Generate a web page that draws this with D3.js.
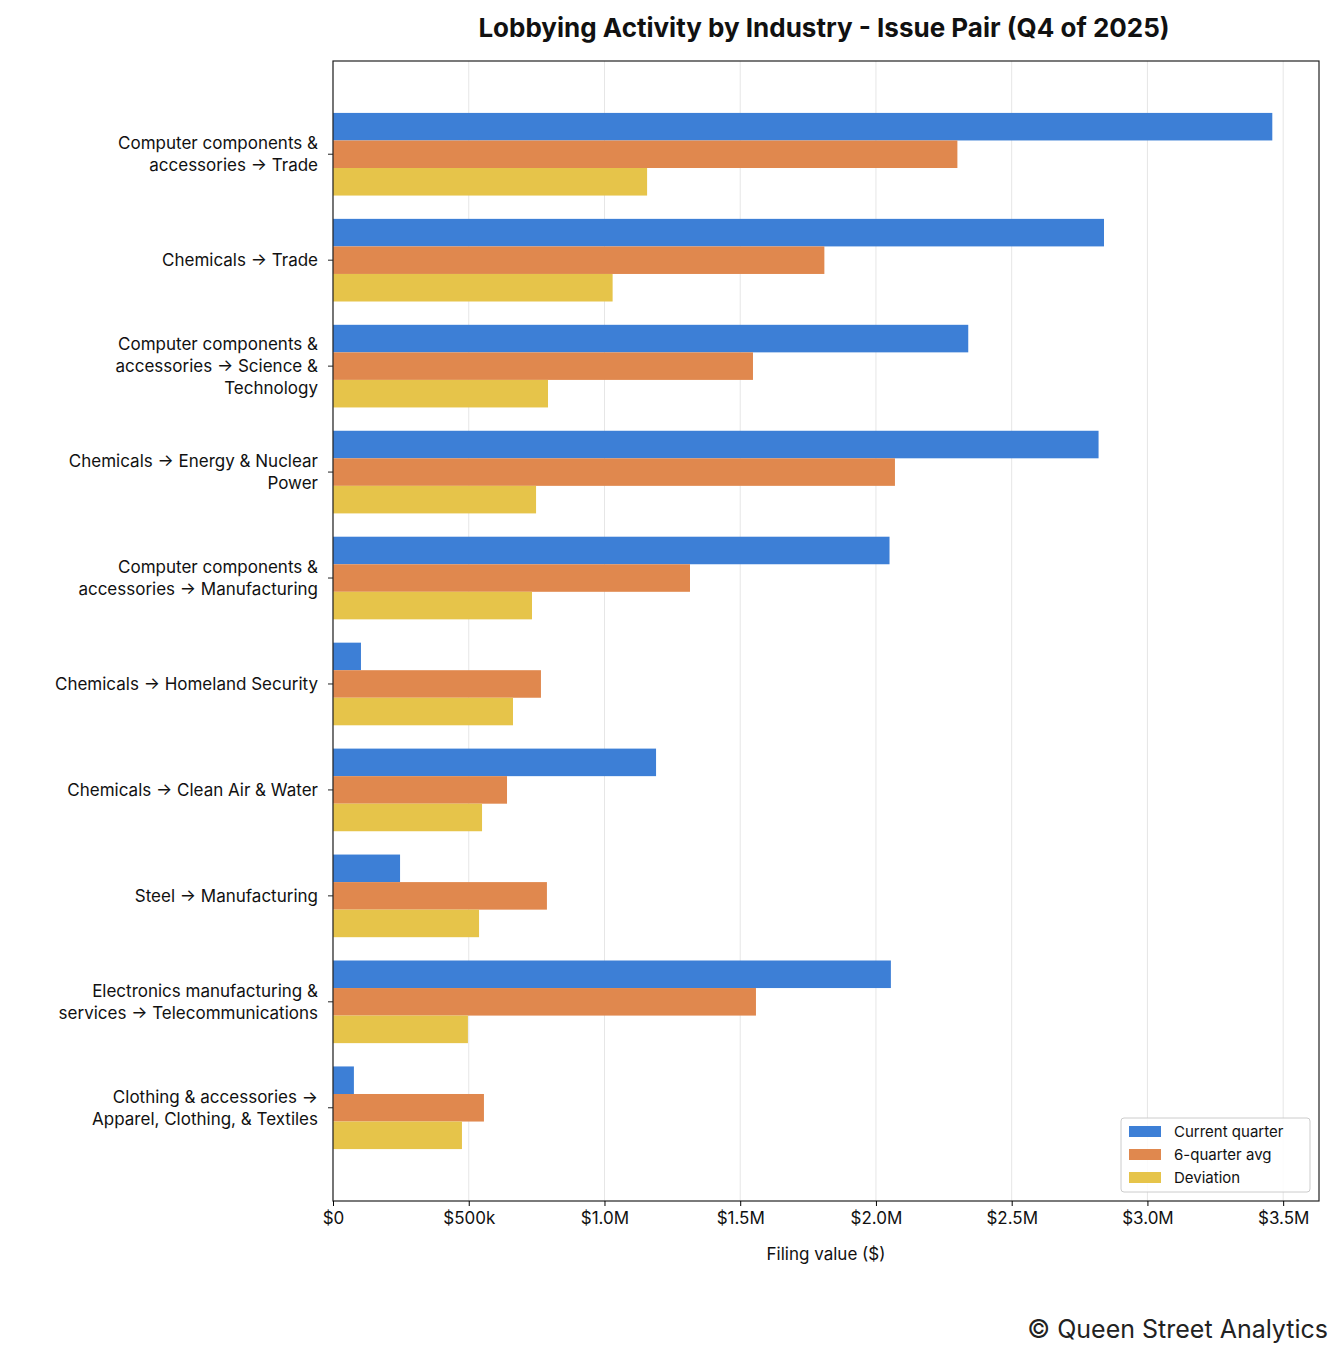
<!DOCTYPE html>
<html>
<head>
<meta charset="utf-8">
<script src="https://cdn.jsdelivr.net/npm/d3@7"></script>
<style>
  body { margin: 0; background: #fff; }
  text { font-family: Inter, "DejaVu Sans", sans-serif; }
</style>
</head>
<body>
<svg id="chart" width="1344" height="1359"></svg>
<script>
// Category labels (line breaks as drawn)
const categories = [
  ['Computer components &', 'accessories → Trade'],
  ['Chemicals → Trade'],
  ['Computer components &', 'accessories → Science &', 'Technology'],
  ['Chemicals → Energy & Nuclear', 'Power'],
  ['Computer components &', 'accessories → Manufacturing'],
  ['Chemicals → Homeland Security'],
  ['Chemicals → Clean Air & Water'],
  ['Steel → Manufacturing'],
  ['Electronics manufacturing &', 'services → Telecommunications'],
  ['Clothing & accessories →', 'Apparel, Clothing, & Textiles']
];
const currentQuarter = [3460000, 2840000, 2340000, 2820000, 2050000, 103000, 1190000, 247000, 2055000, 77000];
const sixQuarterAvg = [2300000, 1810000, 1547000, 2070000, 1315000, 766000, 641000, 788000, 1558000, 556000];
const deviation = [1157000, 1030000, 792000, 748000, 733000, 663000, 549000, 538000, 497000, 475000];
const seriesNames = ['Current quarter', '6-quarter avg', 'Deviation'];
const seriesColors = ['#3d7fd6', '#e0884e', '#e6c44a'];
const xTicks = [0, 500000, 1000000, 1500000, 2000000, 2500000, 3000000, 3500000];
const xTickLabels = ['$0', '$500k', '$1.0M', '$1.5M', '$2.0M', '$2.5M', '$3.0M', '$3.5M'];

const series = [currentQuarter, sixQuarterAvg, deviation];
const plotLeft = 333, plotRight = 1319, plotTop = 61, plotBottom = 1201;
const svg = d3.select('#chart');

const x = d3.scaleLinear().domain([0, 3632000]).range([plotLeft, plotRight]);
const y = d3.scaleLinear().domain([-0.88, categories.length - 1 + 0.88]).range([plotTop, plotBottom]);
const barH = y(0.26) - y(0);

// gridlines
svg.append('g').selectAll('line').data(xTicks).join('line')
  .attr('x1', d => x(d)).attr('x2', d => x(d))
  .attr('y1', plotTop).attr('y2', plotBottom)
  .attr('stroke', '#e6e6e6').attr('stroke-width', 1);

// bars
series.forEach((vals, s) => {
  svg.append('g').selectAll('rect').data(vals).join('rect')
    .attr('x', x(0))
    .attr('y', (d, i) => y(i + (s - 1.5) * 0.26))
    .attr('width', d => x(d) - x(0))
    .attr('height', barH)
    .attr('fill', seriesColors[s]);
});

// frame
svg.append('rect').attr('x', plotLeft).attr('y', plotTop)
  .attr('width', plotRight - plotLeft).attr('height', plotBottom - plotTop)
  .attr('fill', 'none').attr('stroke', '#222').attr('stroke-width', 1.2);

// x axis
const xAxis = svg.append('g').attr('transform', `translate(0,${plotBottom})`)
  .call(d3.axisBottom(x).tickValues(xTicks).tickFormat((d, i) => xTickLabels[i]).tickSize(5).tickPadding(6));
xAxis.select('.domain').remove();
xAxis.selectAll('text').attr('font-size', 17).attr('fill', '#111')
  .style('font-family', 'Inter, "DejaVu Sans", sans-serif');

svg.append('text').attr('x', (plotLeft + plotRight) / 2).attr('y', 1260)
  .attr('text-anchor', 'middle').attr('font-size', 17).attr('fill', '#111')
  .text('Filing value ($)');

// y ticks and labels
const yg = svg.append('g');
categories.forEach((lines, i) => {
  const cy = y(i);
  yg.append('line').attr('x1', plotLeft - 5).attr('x2', plotLeft).attr('y1', cy).attr('y2', cy)
    .attr('stroke', '#222');
  const lh = 22;
  const t = yg.append('text').attr('text-anchor', 'end').attr('font-size', 17).attr('fill', '#111');
  lines.forEach((ln, k) => {
    t.append('tspan').attr('x', 318)
      .attr('y', cy + (k - (lines.length - 1) / 2) * lh + 6)
      .text(ln);
  });
});

// title
svg.append('text').attr('x', (plotLeft + plotRight) / 2 - 2).attr('y', 37)
  .attr('text-anchor', 'middle').attr('font-size', 26).attr('font-weight', 'bold').attr('fill', '#111')
  .text('Lobbying Activity by Industry - Issue Pair (Q4 of 2025)');

// legend
const lg = svg.append('g').attr('transform', 'translate(1121,1118)');
lg.append('rect').attr('width', 189).attr('height', 74).attr('rx', 3)
  .attr('fill', '#fff').attr('fill-opacity', 0.85).attr('stroke', '#ccc');
seriesNames.forEach((n, i) => {
  lg.append('rect').attr('x', 8).attr('y', 8 + i * 23).attr('width', 32).attr('height', 11)
    .attr('fill', seriesColors[i]);
  lg.append('text').attr('x', 53).attr('y', 19 + i * 23).attr('font-size', 15).attr('fill', '#111').text(n);
});

// watermark
svg.append('text').attr('x', 1328).attr('y', 1338).attr('text-anchor', 'end')
  .attr('font-size', 25).attr('fill', '#222').text('© Queen Street Analytics');
</script>
</body>
</html>
